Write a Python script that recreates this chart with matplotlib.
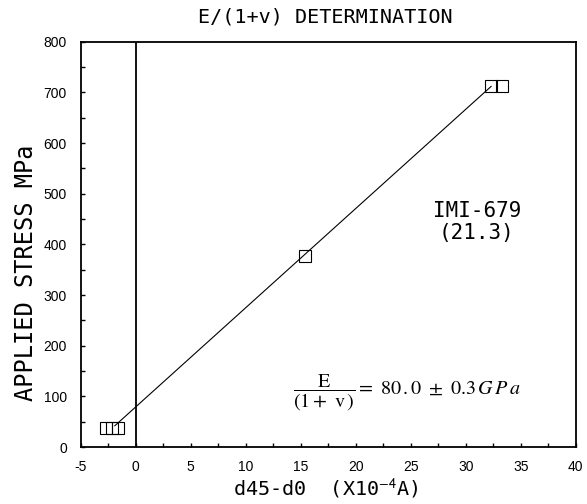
import numpy as np
import matplotlib
matplotlib.use('Agg')
import matplotlib.pyplot as plt
from matplotlib.ticker import MultipleLocator

# dados
x_pts = [-2.7, -2.2, -1.6, 15.4, 32.3, 33.3]
y_pts = [38, 38, 38, 377, 712, 712]

# reta ajustada
x_fit = [-1.9, 32.3]
y_fit = [42, 712]

x_ticks = [-5, 0, 5, 10, 15, 20, 25, 30, 35, 40]
y_ticks = [0, 100, 200, 300, 400, 500, 600, 700, 800]

mono = 'DejaVu Sans Mono'
plt.rcParams['mathtext.fontset'] = 'stix'
plt.rcParams['axes.unicode_minus'] = False

fig = plt.figure(figsize=(5.87, 5.04), dpi=100)
ax = fig.add_axes([0.1375, 0.113, 0.8435, 0.804])

ax.plot(x_fit, y_fit, color='black', linewidth=0.8)
ax.plot(x_pts, y_pts, linestyle='none', marker='s', markersize=8,
        markerfacecolor='none', markeredgecolor='black', markeredgewidth=0.8)
ax.axvline(0, color='black', linewidth=1.3)

ax.set_xlim(-5, 40)
ax.set_ylim(0, 800)
ax.set_xticks(x_ticks)
ax.set_yticks(y_ticks)
ax.xaxis.set_minor_locator(MultipleLocator(2.5))
ax.yaxis.set_minor_locator(MultipleLocator(50))
ax.tick_params(which='both', direction='in', top=False, right=False)
ax.tick_params(which='major', length=3, width=1)
ax.tick_params(which='minor', length=3, width=1)
ax.tick_params(axis='x', pad=9)
ax.tick_params(axis='y', pad=10)
for lab in ax.get_xticklabels() + ax.get_yticklabels():
    lab.set_fontfamily('Liberation Sans')
    lab.set_fontsize(10)
for s in ax.spines.values():
    s.set_linewidth(1.3)

fig.text(0.555, 0.966, 'E/(1+v) DETERMINATION', family=mono, fontsize=14.5,
         ha='center', va='center')
fig.text(0.554, 0.03, 'd45-d0  (X10$^{\\mathsf{-4}}$A)', family=mono, fontsize=14.5,
         ha='center', va='center')
fig.text(0.044, 0.458, 'APPLIED STRESS MPa', family=mono, fontsize=17,
         rotation=90, ha='center', va='center')

ax.text(31, 444, 'IMI-679\n(21.3)', family=mono, fontsize=15,
        ha='center', va='center', linespacing=1.15)
ax.text(14.3, 107, r'$\dfrac{\mathrm{E}}{(1+\ \mathrm{v}\,)} = \ 80\,.0\ \pm\ 0.3\,G\,P\,a$',
        fontsize=14.5, ha='left', va='center')

fig.savefig('out.png', dpi=100)
